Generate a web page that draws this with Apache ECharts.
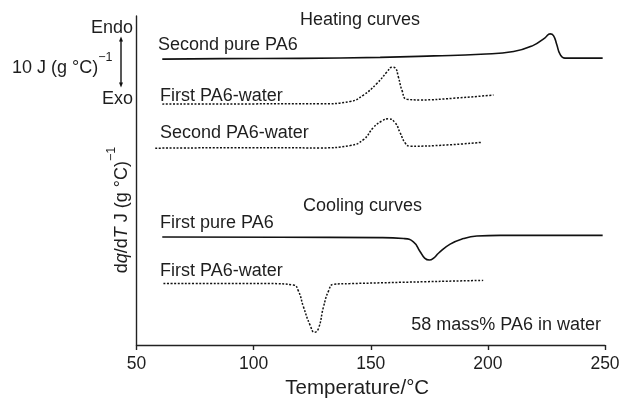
<!DOCTYPE html>
<html>
<head>
<meta charset="utf-8">
<script src="https://cdn.jsdelivr.net/npm/echarts@6/dist/echarts.min.js"></script>
<style>
  html, body { margin: 0; padding: 0; background: #fff; }
  #main { width: 632px; height: 404px; }
</style>
</head>
<body>
<div id="main"></div>
<script>
// DSC traces: temperature (°C) against dq/dT, each trace offset vertically (J (g °C)^-1)
const xTicks = [50, 100, 150, 200, 250];

// Heating: second run, pure PA6
const heatPure2T = [61, 86, 120, 154, 177, 197, 211, 219.4, 224.4, 226.6, 228, 229.4, 230.8, 232.9, 249];
const heatPure2V = [58.4, 58.5, 58.55, 58.75, 59.05, 59.4, 59.95, 61.2, 62.75, 63.55, 63.2, 61.4, 59.4, 58.6, 58.6];

// Heating: first run, PA6-water
const heatWater1T = [61, 100, 128.4, 141.2, 146.9, 152.6, 156.9, 159, 160.4, 161.8, 163.3, 165.4, 171.1, 185.3, 202.4];
const heatWater1V = [49.2, 49.25, 49.26, 49.74, 51.06, 53.4, 55.74, 56.74, 56.6, 54.74, 52.06, 50.2, 50.06, 50.4, 51.06];

// Heating: second run, PA6-water
const heatWater2T = [58, 100, 128.4, 141.2, 146.9, 151.1, 154.7, 157.6, 160.4, 162.5, 164.7, 166.8, 182.5, 197.4];
const heatWater2V = [40.2, 40.3, 40.26, 40.74, 41.94, 44.4, 45.74, 46.2, 45.4, 43.4, 41.26, 40.6, 40.86, 41.4];

// Cooling: first run, pure PA6
const coolPure1T = [61, 111, 154, 164, 168.2, 171.1, 173, 175, 177, 178.9, 183.9, 189.6, 195.3, 205.2, 249];
const coolPure1V = [22.06, 22.0, 21.94, 21.74, 21.06, 19.06, 17.75, 17.35, 17.8, 18.74, 20.6, 21.74, 22.26, 22.4, 22.4];

// Cooling: first run, PA6-water
const coolWater1T = [61.5, 107, 117, 119.1, 121.3, 124.1, 126, 127.7, 129.8, 132, 134.1, 141.2, 198];
const coolWater1V = [12.54, 12.54, 12.26, 11.06, 7.74, 4.06, 2.6, 3.4, 7.74, 11.06, 12.4, 12.54, 13.2];

// Scale bar: 10 J (g °C)^-1
const scaleBarFrom = 52.8;
const scaleBarSize = 10;

const FONT = '"Liberation Sans", Arial, Helvetica, sans-serif';
const INK = '#1e1e1e';

function pairs(t, v) { return t.map((x, i) => [x, v[i]]); }

const solid = { color: '#111', width: 1.6, type: 'solid' };
const dotted = { color: '#111', width: 1.5, type: [2, 1.6] };

function curve(t, v, style) {
  return {
    type: 'line',
    data: pairs(t, v),
    showSymbol: false,
    smooth: 0.5,
    lineStyle: style,
    silent: true,
    animation: false
  };
}

const chart = echarts.init(document.getElementById('main'), null, { renderer: 'canvas' });

chart.setOption({
  animation: false,
  backgroundColor: '#fff',
  textStyle: { fontFamily: FONT, color: INK },
  grid: { left: 136.5, right: 27, top: 16, bottom: 52, containLabel: false },
  xAxis: {
    type: 'value',
    min: xTicks[0],
    max: xTicks[xTicks.length - 1],
    interval: 50,
    name: 'Temperature/°C',
    nameLocation: 'middle',
    nameGap: 33,
    nameTextStyle: { fontSize: 20.5, color: INK, fontFamily: FONT, padding: [0, 27, 0, 0] },
    axisLine: { lineStyle: { color: '#222', width: 1.4 } },
    axisTick: { show: true, inside: false, length: 5, lineStyle: { color: '#222', width: 1.4 } },
    axisLabel: { fontSize: 17.5, color: INK, margin: 10, fontFamily: FONT },
    splitLine: { show: false }
  },
  yAxis: {
    type: 'value',
    min: 0,
    max: 67.2,
    axisLine: { show: true, lineStyle: { color: '#222', width: 1.4 } },
    axisTick: { show: false },
    axisLabel: { show: false },
    splitLine: { show: false }
  },
  series: [
    curve(heatPure2T, heatPure2V, solid),
    curve(heatWater1T, heatWater1V, dotted),
    curve(heatWater2T, heatWater2V, dotted),
    curve(coolPure1T, coolPure1V, solid),
    curve(coolWater1T, coolWater1V, dotted)
  ]
});

// Annotations and the Endo/Exo scale bar
const yTop = chart.convertToPixel({ yAxisIndex: 0 }, scaleBarFrom + scaleBarSize);
const yBot = chart.convertToPixel({ yAxisIndex: 0 }, scaleBarFrom);
const barX = 121;

function label(text, x, y, size, align) {
  return {
    type: 'text',
    x: x, y: y,
    silent: true,
    style: {
      text: text,
      fill: INK,
      font: size + 'px ' + FONT,
      align: align || 'left',
      verticalAlign: 'middle'
    }
  };
}

const supRich = {
  n: { fontSize: 18, fontFamily: FONT, fill: INK, verticalAlign: 'bottom', lineHeight: 26 },
  i: { fontSize: 18, fontFamily: FONT, fill: INK, fontStyle: 'italic', verticalAlign: 'bottom', lineHeight: 26 },
  s: { fontSize: 12.5, fontFamily: FONT, fill: INK, verticalAlign: 'top', lineHeight: 14 }
};

chart.setOption({
  graphic: [
    label('Heating curves', 300, 20, 18),
    label('Second pure PA6', 158, 45, 18),
    label('First PA6-water', 160, 96, 18),
    label('Second PA6-water', 160, 133, 18),
    label('Cooling curves', 303, 206, 18),
    label('First pure PA6', 160, 223, 18),
    label('First PA6-water', 160, 271, 18),
    label('58 mass% PA6 in water', 601, 325, 18, 'right'),
    label('Endo', 133, 28, 18, 'right'),
    label('Exo', 133, 99, 18, 'right'),
    {
      type: 'text',
      x: 12, y: 64,
      silent: true,
      style: {
        text: '{n|10 J (g °C)}{s|−1}',
        fill: INK,
        align: 'left',
        verticalAlign: 'middle',
        rich: supRich
      }
    },
    {
      type: 'text',
      x: 118, y: 210,
      rotation: Math.PI / 2,
      silent: true,
      style: {
        text: '{n|d}{i|q}{n|/d}{i|T}{n| J (g °C)}{s|−1}',
        fill: INK,
        align: 'center',
        verticalAlign: 'middle',
        rich: supRich
      }
    },
    {
      type: 'line',
      silent: true,
      shape: { x1: barX, y1: yTop + 2, x2: barX, y2: yBot - 2 },
      style: { stroke: '#111', lineWidth: 1.4 }
    },
    {
      type: 'polygon',
      silent: true,
      shape: { points: [[barX, yTop - 1], [barX - 2, yTop + 4], [barX + 2, yTop + 4]] },
      style: { fill: '#111' }
    },
    {
      type: 'polygon',
      silent: true,
      shape: { points: [[barX, yBot + 1], [barX - 2, yBot - 4], [barX + 2, yBot - 4]] },
      style: { fill: '#111' }
    }
  ]
});
</script>
</body>
</html>
